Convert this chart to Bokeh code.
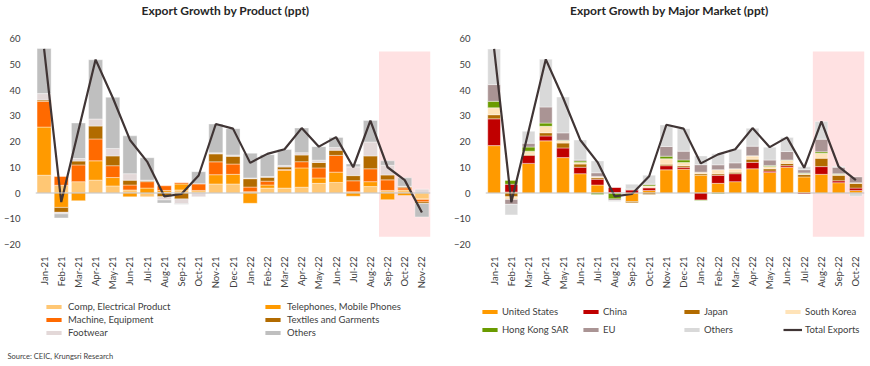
import numpy as np
from bokeh.plotting import figure
from bokeh.models import (FactorRange, Range1d, Span, Legend, LegendItem, Label,
                          ColumnDataSource, FixedTicker)
from bokeh.layouts import row, column
from bokeh.embed import file_html
from bokeh.resources import INLINE

# ---------------- data ----------------
months_product = ["Jan-21", "Feb-21", "Mar-21", "Apr-21", "May-21", "Jun-21", "Jul-21",
                  "Aug-21", "Sep-21", "Oct-21", "Nov-21", "Dec-21", "Jan-22", "Feb-22",
                  "Mar-22", "Apr-22", "May-22", "Jun-22", "Jul-22", "Aug-22", "Sep-22",
                  "Oct-22", "Nov-22"]
months_market = months_product[:22]

comp_electrical = [6.9, 3.0, 4.4, 5.0, 2.75, 1.2, -1.5, 0.3, 1.2, 0.5, 3.5, 3.5, 0.5, 1.9, 1.9, 2.25, 3.75, 4.1, 0.5, 2.5, 1.0, 1.2, -2.25]
telephones = [18.7, -5.6, -3.0, 7.5, 3.25, -1.5, 1.9, 0.7, 2.3, 0.5, 3.6, 3.75, -4.0, 1.2, 6.9, 7.5, 2.1, 4.0, -1.25, 1.9, -2.6, -1.0, -0.3]
machine = [10.0, 3.4, 6.5, 8.5, 4.6, 1.9, 2.5, 1.8, 0.5, 2.6, 5.0, 4.0, 1.8, 1.5, 0.3, 2.4, 3.9, 6.5, 4.25, 5.0, 4.1, 0.8, -0.9]
textiles = [0.5, -1.9, 1.5, 5.0, 3.8, 1.9, 0.3, -1.5, -2.3, 0.0, 3.1, 3.0, 3.25, 1.5, 1.0, 2.6, 2.1, 2.0, 2.0, 5.0, 1.9, 0.4, -0.6]
footwear = [2.5, -0.6, 1.0, 2.75, 2.9, 2.5, 0.3, -1.2, -1.8, -1.5, 0.4, 0.5, 0.3, 0.3, 0.6, 0.9, 0.9, 1.1, 3.4, 5.4, 3.75, 0.2, 1.5]
others_product = [17.5, -1.6, 13.8, 23.0, 19.9, 14.7, 8.7, -1.2, -0.3, 4.7, 11.2, 10.25, 9.6, 8.5, 6.2, 9.6, 5.25, 3.9, 1.1, 8.4, 1.75, 3.3, -5.25]
total_product = [56.0, -3.5, 24.3, 51.8, 37.0, 20.6, 12.2, -1.3, -0.4, 6.8, 26.8, 25.0, 11.7, 15.2, 17.0, 25.2, 18.0, 21.7, 10.0, 28.1, 10.0, 5.0, -7.6]

united_states = [18.4, 0.4, 11.5, 20.25, 13.75, 7.5, 3.1, 0.1, -3.3, 1.0, 9.0, 9.25, 6.9, 3.75, 4.4, 9.4, 8.0, 10.0, 6.25, 7.25, 4.0, 1.0]
china = [10.4, 3.0, 3.1, 1.9, 3.75, 2.5, 2.25, 2.1, 1.2, 1.0, 1.6, 0.75, -2.75, 3.1, 3.1, 2.5, 0.5, 0.6, -0.4, 3.0, 0.75, 0.9]
japan = [1.6, -1.5, 0.4, 1.25, 1.9, 1.25, 0.6, -0.1, -0.5, -0.6, 0.6, 0.6, 0.6, 0.6, 0.6, 1.25, 0.9, 0.9, 0.9, 3.25, 2.1, 1.9]
south_korea = [2.7, -1.0, 1.25, 2.5, 0.9, 0.6, 0.5, 0.0, 0.1, 0.7, 2.1, 1.25, 0.6, 1.6, 1.25, 1.25, 0.9, 1.25, 0.4, 1.9, 0.4, 0.1]
hong_kong = [2.5, 1.5, 1.6, 1.25, 0.2, 0.6, -0.6, -2.2, 0.1, 0.5, 1.0, 1.0, -0.2, -0.3, 0.1, 0.1, 0.4, 0.1, 0.25, 0.6, 0.25, 0.1]
eu = [6.5, -1.9, 1.5, 6.25, 2.85, 0.4, 1.4, -0.6, 0.2, 0.3, 3.75, 3.4, 2.9, 1.9, 2.25, 3.7, 2.1, 3.25, 1.25, 4.9, 2.5, 2.25]
others_market = [13.8, -4.1, 4.6, 18.5, 13.9, 7.75, 4.6, -0.4, 1.8, 3.4, 8.4, 8.75, 3.4, 4.25, 5.25, 6.9, 5.0, 5.5, 1.1, 6.9, 0.25, -1.25]
total_market = [56.0, -3.6, 24.0, 51.9, 37.0, 20.6, 12.0, -1.3, -0.4, 6.5, 26.5, 25.0, 11.5, 15.0, 17.0, 25.2, 17.8, 21.6, 9.8, 27.8, 10.2, 5.0]

product_names = ["Comp, Electrical Product", "Telephones, Mobile Phones", "Machine, Equipment",
                 "Textiles and Garments", "Footwear", "Others"]
market_names = ["United States", "China", "Japan", "South Korea", "Hong Kong SAR", "EU", "Others"]
total_name = "Total Exports"

title_product = "Export Growth by Product (ppt)"
title_market = "Export Growth by Major Market (ppt)"
source_text = "Source: CEIC, Krungsri Research"

highlight_product = ["Sep-22", "Nov-22"]
highlight_market = ["Aug-22", "Oct-22"]
highlight_low, highlight_high = -17, 55
y_ticks = [-20, -10, 0, 10, 20, 30, 40, 50, 60]

# ---------------- style ----------------
product_colors = ["#FFC774", "#FF9A00", "#FF6A00", "#B26B00", "#E3D8D8", "#BFBFBF"]
market_colors = ["#FF9A00", "#C00000", "#B26B00", "#FFE3B8", "#6A9B00", "#AA9494", "#D9D9D9"]
LINE_COLOR = "#403535"
PINK = "#FFE1E2"
FONT = "Lato"
TXT = "#404040"
TITLE_H = 20
CHART_H = 272
LEG_H = 72
TOP = 18
FRAME_H = 215
LEFT_W, RIGHT_W = 443, 426


def stack(series):
    n = len(series[0])
    pos = np.zeros(n)
    neg = np.zeros(n)
    out = []
    for s in series:
        s = np.asarray(s, float)
        bottom = np.where(s >= 0, pos, neg)
        top = bottom + s
        pos = np.where(s >= 0, top, pos)
        neg = np.where(s < 0, top, neg)
        out.append((bottom, top))
    return out


def blank_fig(width, height):
    q = figure(width=width, height=height, x_range=Range1d(0, 1), y_range=Range1d(0, 1),
               min_border=0, x_axis_location=None, y_axis_location=None,
               output_backend="svg", toolbar_location=None,
               outline_line_color=None, border_fill_color="white")
    q.grid.visible = False
    return q


def title_fig(width, text, cx):
    q = blank_fig(width, TITLE_H)
    q.add_layout(Label(x=cx, y=10.5, x_units="screen", y_units="screen", text=text,
                       text_align="center", text_baseline="middle", text_font=FONT,
                       text_font_style="bold", text_font_size="12px",
                       text_color="#262626"))
    return q


def make_fig(months, series, colors, total, hl, width, bl, br, bar_w):
    p = figure(x_range=FactorRange(factors=months, range_padding=0),
               y_range=Range1d(-20, 60), width=width, height=CHART_H,
               min_border_left=bl, min_border_right=br, min_border_top=TOP,
               min_border_bottom=CHART_H - TOP - FRAME_H,
               output_backend="svg", toolbar_location=None,
               outline_line_color=None, border_fill_color="white")
    p.grid.visible = False
    p.quad(left=[months.index(hl[0])], right=[months.index(hl[1]) + 1],
           bottom=[highlight_low], top=[highlight_high],
           fill_color=PINK, line_color=None)
    for (b, t), c in zip(stack(series), colors):
        src = ColumnDataSource(dict(x=months, bottom=b, top=t))
        p.vbar(x="x", bottom="bottom", top="top", width=bar_w, source=src,
               fill_color=c, line_color="white", line_width=0.4)
    p.add_layout(Span(location=0, dimension="width", line_color="#BFBFBF", line_width=1))
    p.line(x=months, y=total, line_color=LINE_COLOR, line_width=2.2)

    p.yaxis.ticker = FixedTicker(ticks=y_ticks)
    for ax in (p.xaxis, p.yaxis):
        ax.axis_line_color = None
        ax.major_tick_line_color = None
        ax.minor_tick_line_color = None
        ax.major_label_text_font = FONT
        ax.major_label_text_font_size = "9.5px"
        ax.major_label_text_color = TXT
    p.yaxis.major_label_standoff = 9
    p.xaxis.major_label_standoff = 6
    p.xaxis.major_label_orientation = np.pi / 2
    return p


def make_legend_fig(width, names, colors, with_line, ncols, label_width, label_height,
                    standoff, loc):
    q = blank_fig(width, LEG_H)
    items = []
    # legend keys only: zero-size marks placed outside the visible range
    for n, c in zip(names, colors):
        r = q.vbar(x=[-1], top=[-1], bottom=[-1], width=0, fill_color=c, line_color=None)
        items.append(LegendItem(label=n, renderers=[r]))
    if with_line:
        r = q.line(x=[-1, -1], y=[-1, -1], line_color=LINE_COLOR, line_width=2.2)
        items.append(LegendItem(label=total_name, renderers=[r]))
    leg = Legend(items=items, location=loc, orientation="horizontal", ncols=ncols,
                 glyph_width=19, glyph_height=5, label_standoff=standoff,
                 label_width=label_width, label_height=label_height, spacing=1,
                 padding=0, margin=0, border_line_color=None, background_fill_alpha=0,
                 label_text_font=FONT, label_text_font_size="9.5px",
                 label_text_color=TXT)
    q.add_layout(leg)
    return q


# ---------------- left chart ----------------
t1 = title_fig(LEFT_W, title_product, 225)
p1 = make_fig(months_product,
              [comp_electrical, telephones, machine, textiles, footwear, others_product],
              product_colors, total_product, highlight_product,
              width=LEFT_W, bl=34, br=13, bar_w=0.82)
l1 = make_legend_fig(LEFT_W, product_names, product_colors, False, 2, 194, 12, 5, (44, 26))
l1.add_layout(Label(x=7, y=8, x_units="screen", y_units="screen", text=source_text,
                    text_align="left", text_baseline="middle", text_font=FONT,
                    text_font_size="7.5px", text_color=TXT))

# ---------------- right chart ----------------
t2 = title_fig(RIGHT_W, title_market, 226)
p2 = make_fig(months_market,
              [united_states, china, japan, south_korea, hong_kong, eu, others_market],
              market_colors, total_market, highlight_market,
              width=RIGHT_W, bl=42, br=5, bar_w=0.74)
l2 = make_legend_fig(RIGHT_W, market_names, market_colors, True, 4, 78, 17, 3, (37, 26))

layout = column(row(t1, t2), row(p1, p2), row(l1, l2))
open("out.html", "w").write(file_html(layout, INLINE))
